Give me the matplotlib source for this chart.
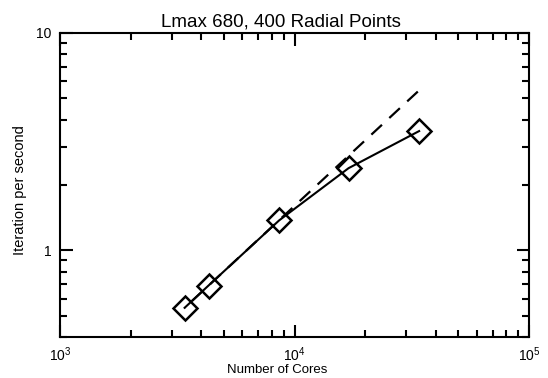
import numpy as np
import matplotlib
matplotlib.use('Agg')
import matplotlib.pyplot as plt
from matplotlib.ticker import LogLocator, FixedLocator, NullFormatter, FixedFormatter

plt.rcParams['font.family'] = ['Liberation Sans', 'DejaVu Sans']
plt.rcParams['mathtext.fontset'] = 'custom'
plt.rcParams['mathtext.rm'] = 'Liberation Sans'
plt.rcParams['mathtext.it'] = 'Liberation Sans'

cores = [3400, 4300, 8600, 17000, 34000]
iters = [0.545, 0.69, 1.375, 2.39, 3.54]

# ideal scaling from the first point
ideal_x = [cores[0], cores[-1]]
ideal_y = [iters[0], iters[0] * cores[-1] / cores[0]]

fig = plt.figure(figsize=(5.48, 3.78), dpi=100)
ax = fig.add_axes([60 / 548, 1 - 337 / 378, (529 - 60) / 548, (337 - 33) / 378])

ax.plot(ideal_x, ideal_y, color='black', lw=1.6, ls=(6.4, (6.5, 4.5)))
ax.plot(cores, iters, color='black', lw=1.5, marker='D', ms=12,
        mfc='none', mec='black', mew=1.8)

ax.set_xscale('log')
ax.set_yscale('log')
ax.set_xlim(1e3, 1e5)
ax.set_ylim(0.4, 10)

ax.xaxis.set_major_locator(FixedLocator([1e3, 1e4, 1e5]))
ax.xaxis.set_major_formatter(FixedFormatter([r'$10^3$', r'$10^4$', r'$10^5$']))
ax.xaxis.set_minor_locator(LogLocator(base=10, subs=np.arange(2, 10)))
ax.xaxis.set_minor_formatter(NullFormatter())
ax.yaxis.set_major_locator(FixedLocator([1, 10]))
ax.yaxis.set_major_formatter(FixedFormatter(['1', '10']))
ax.yaxis.set_minor_locator(LogLocator(base=10, subs=np.arange(2, 10)))
ax.yaxis.set_minor_formatter(NullFormatter())

ax.tick_params(which='both', direction='in', top=True, right=True, width=1.5, labelsize=10)
ax.tick_params(which='major', length=9, pad=6)
ax.tick_params(which='minor', length=5)
for s in ax.spines.values():
    s.set_linewidth(1.5)

ax.set_title('Lmax 680, 400 Radial Points', fontsize=13.5, pad=5, x=0.471)
ax.set_xlabel('Number of Cores', fontsize=9.5)
ax.set_ylabel('Iteration per second', fontsize=10.5)
ax.xaxis.set_label_coords(0.464, -0.09)
ax.yaxis.set_label_coords(-0.07, 0.484)

fig.savefig('out.png', dpi=100)
